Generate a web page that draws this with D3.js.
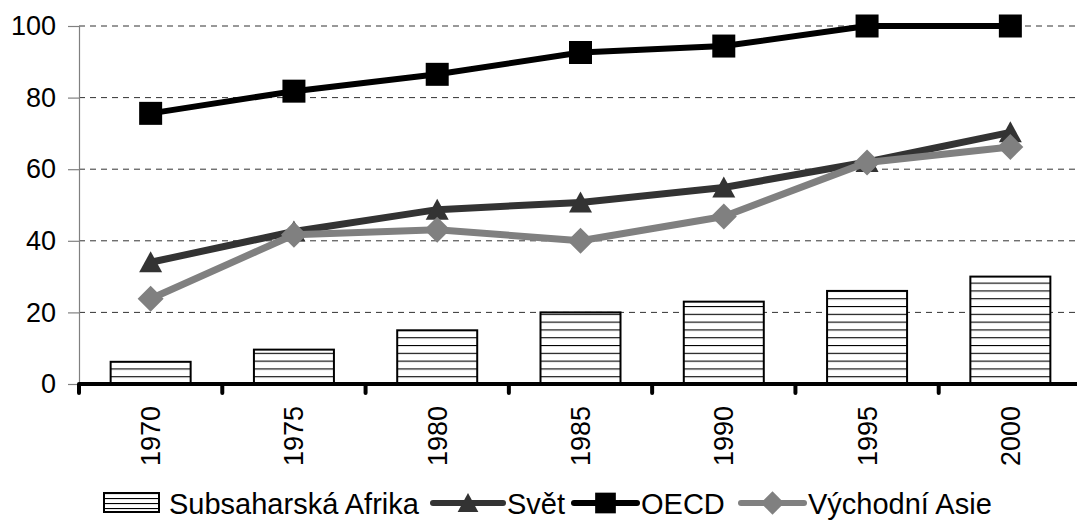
<!DOCTYPE html>
<html><head><meta charset="utf-8">
<script src="https://cdn.jsdelivr.net/npm/d3@7"></script>
<style>body{margin:0;background:#fff}svg{display:block}text{font-family:"Liberation Sans",Arial,sans-serif}</style>
</head><body>
<svg id="c" width="1077" height="520"></svg>
<script>
const years = ["1970","1975","1980","1985","1990","1995","2000"];
const africa = [6.2, 9.6, 15, 20, 23, 26, 30];
const svet = [34, 42.6, 48.7, 50.7, 54.9, 62, 70.3];
const oecd = [75.6, 81.8, 86.5, 92.6, 94.4, 100, 100];
const asie = [23.8, 41.7, 43.1, 40, 46.8, 61.9, 66.2];
const yTicks = [0, 20, 40, 60, 80, 100];

const svg = d3.select("#c");
const L = 79, R = 1082, T = 26, B = 384;
const x = d3.scaleBand().domain(years).range([L, R]);
const y = d3.scaleLinear().domain([0, 100]).range([B, T]);
const FS = 27, LFS = 29;

const defs = svg.append("defs");
const pat = defs.append("pattern").attr("id","hatch").attr("patternUnits","userSpaceOnUse")
  .attr("width", 8).attr("height", 7.8).attr("y", B);
pat.append("rect").attr("width",8).attr("height",7.8).attr("fill","#fff");
pat.append("line").attr("x1",0).attr("x2",8).attr("y1",0.5).attr("y2",0.5).attr("stroke","#000").attr("stroke-width",1.2);
const pat2 = defs.append("pattern").attr("id","hatch2").attr("patternUnits","userSpaceOnUse")
  .attr("width", 8).attr("height", 5).attr("y", 493);
pat2.append("rect").attr("width",8).attr("height",5).attr("fill","#fff");
pat2.append("line").attr("x1",0).attr("x2",8).attr("y1",0.5).attr("y2",0.5).attr("stroke","#000").attr("stroke-width",1.2);

// gridlines
svg.append("g").selectAll("line").data(yTicks.filter(d => d > 0)).join("line")
  .attr("x1", L).attr("x2", 1077).attr("y1", d => y(d)).attr("y2", d => y(d))
  .attr("stroke", "#333").attr("stroke-width", 1).attr("stroke-dasharray", "6,5");

// y axis
const yAxis = svg.append("g").attr("transform", `translate(${L},0)`)
  .call(d3.axisLeft(y).tickValues(yTicks).tickSize(11).tickPadding(12));
yAxis.select(".domain").attr("stroke", "#808080").attr("stroke-width", 1.2);
yAxis.selectAll(".tick line").attr("stroke", "#808080").attr("stroke-width", 1.2);
yAxis.selectAll("text").attr("font-size", FS).attr("fill", "#000")
  .style("font-family", '"Liberation Sans",Arial,sans-serif');

// bars
const bw = 80;
svg.append("g").selectAll("rect").data(africa).join("rect")
  .attr("x", (d, i) => x(years[i]) + x.bandwidth() / 2 - bw / 2)
  .attr("width", bw)
  .attr("y", d => y(d)).attr("height", d => B - y(d))
  .attr("fill", "url(#hatch)").attr("stroke", "#000").attr("stroke-width", 2);

// x axis
const xg = svg.append("g");
xg.append("line").attr("x1", L).attr("x2", 1077).attr("y1", B).attr("y2", B)
  .attr("stroke", "#000").attr("stroke-width", 4);
xg.selectAll("line.tk").data(years).join("line").attr("class","tk")
  .attr("x1", d => x(d)).attr("x2", d => x(d)).attr("y1", B).attr("y2", B + 9)
  .attr("stroke", "#000").attr("stroke-width", 4).attr("stroke-linecap", "round");
xg.selectAll("text").data(years).join("text")
  .attr("transform", d => `translate(${x(d) + x.bandwidth() / 2 + 9.5},${B + 22}) rotate(-90)`)
  .attr("text-anchor", "end").attr("font-size", FS).text(d => d);

const cx = (i) => x(years[i]) + x.bandwidth() / 2;
const lineGen = d3.line().x((d, i) => cx(i)).y(d => y(d));

const tri = "M0,-11L11.5,10L-11.5,10Z";
const sq = "M-11.5,-11.5H11.5V11.5H-11.5Z";
const dia = "M0,-13L13,0L0,13L-13,0Z";

const series = [
  {name: "Svět", data: svet, color: "#333333", w: 7, sym: tri},
  {name: "OECD", data: oecd, color: "#000000", w: 6, sym: sq},
  {name: "Východní Asie", data: asie, color: "#808080", w: 7, sym: dia}
];
series.forEach(s => {
  svg.append("path").attr("d", lineGen(s.data)).attr("fill", "none")
    .attr("stroke", s.color).attr("stroke-width", s.w).attr("stroke-linejoin", "round");
  svg.append("g").selectAll("path").data(s.data).join("path")
    .attr("d", s.sym).attr("fill", s.color)
    .attr("transform", (d, i) => `translate(${cx(i)},${y(d)})`);
});

// legend
const ly = 503;
const lg = svg.append("g");
lg.append("rect").attr("x", 104).attr("y", 493).attr("width", 55).attr("height", 19)
  .attr("fill", "url(#hatch2)").attr("stroke", "#000").attr("stroke-width", 2);
lg.append("text").attr("x", 169).attr("y", 514).attr("font-size", LFS).text("Subsaharská Afrika");

const legItems = [
  {s: series[0], x1: 433, x2: 503, tx: 507},
  {s: series[1], x1: 574, x2: 637, tx: 641},
  {s: series[2], x1: 741, x2: 804, tx: 808}
];
legItems.forEach(it => {
  lg.append("line").attr("x1", it.x1).attr("x2", it.x2).attr("y1", ly).attr("y2", ly)
    .attr("stroke", it.s.color).attr("stroke-width", 6).attr("stroke-linecap", "round");
  lg.append("path").attr("d", it.s.sym).attr("fill", it.s.color)
    .attr("transform", `translate(${(it.x1 + it.x2) / 2},${ly}) scale(0.9)`);
  lg.append("text").attr("x", it.tx).attr("y", 514).attr("font-size", LFS).text(it.s.name);
});
</script>
</body></html>
